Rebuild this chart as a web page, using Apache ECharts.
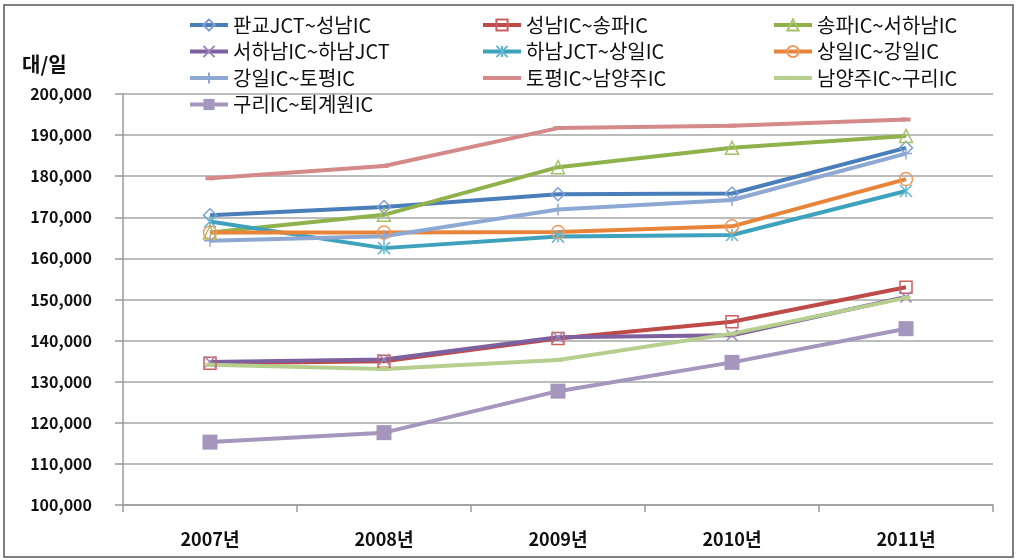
<!DOCTYPE html>
<html>
<head>
<meta charset="utf-8">
<script src="https://cdn.jsdelivr.net/npm/echarts@6/dist/echarts.min.js"></script>
<style>
  html, body { margin: 0; padding: 0; background: #fff; }
  #chart { width: 1017px; height: 560px; }
</style>
</head>
<body>
<div id="chart"></div>
<script>
// 연도
var years = ['2007년', '2008년', '2009년', '2010년', '2011년'];

// 구간별 교통량 (대/일)
var pangyoSeongnam = [170500, 172500, 175600, 175800, 186900];
var seongnamSongpa = [134500, 135000, 140500, 144600, 153000];
var songpaSeohanam = [166300, 170600, 182200, 186900, 189800];
var seohanamHanam = [134800, 135400, 140800, 141300, 150600];
var hanamSangil = [169000, 162500, 165300, 165700, 176400];
var sangilGangil = [166300, 166300, 166400, 167800, 179300];
var gangilTopyeong = [164300, 165400, 171900, 174200, 185500];
var topyeongNamyangju = [179500, 182500, 191700, 192300, 193800];
var namyangjuGuri = [134100, 133100, 135300, 141700, 150400];
var guriToegyewon = [115300, 117600, 127700, 134700, 142900];

var names = [
  '판교JCT~성남IC', '성남IC~송파IC', '송파IC~서하남IC',
  '서하남IC~하남JCT', '하남JCT~상일IC', '상일IC~강일IC',
  '강일IC~토평IC', '토평IC~남양주IC', '남양주IC~구리IC',
  '구리IC~퇴계원IC'
];

var chart = echarts.init(document.getElementById('chart'));

function line(name, data, color, markColor, symbol, size, filled) {
  return {
    name: name,
    type: 'line',
    data: data,
    symbol: symbol,
    symbolSize: size,
    lineStyle: { color: color, width: 4 },
    itemStyle: filled ? { color: markColor, borderWidth: 0 } :
      { color: 'rgba(255,255,255,0)', borderColor: markColor, borderWidth: 1.5 },
    emphasis: { disabled: true }
  };
}

var font = '"Noto Sans CJK KR", "Noto Sans", sans-serif';

// 범례 항목: 마커 없는 계열은 선만 보이게
function item(i) {
  if (i === 7 || i === 8) {
    return { name: names[i], itemStyle: { color: 'rgba(0,0,0,0)' } };
  }
  return { name: names[i] };
}

function legendCol(left, items) {
  return {
    orient: 'vertical',
    left: left,
    top: 15,
    padding: 0,
    itemWidth: 38,
    itemHeight: 14,
    itemGap: 6.5,
    lineStyle: { width: 4 },
    data: items.map(item),
    textStyle: { fontFamily: font, fontSize: 20, color: '#111', lineHeight: 20 }
  };
}

var option = {
  animation: false,
  title: {
    text: '대/일',
    left: 17,
    top: 49,
    textStyle: { fontFamily: font, fontSize: 20, fontWeight: 'bold', color: '#111' }
  },
  legend: [
    legendCol(188, [0, 3, 6, 9]),
    legendCol(481, [1, 4, 7]),
    legendCol(772, [2, 5, 8])
  ],
  grid: { left: 123, right: 24, top: 94, bottom: 55 },
  xAxis: {
    type: 'category',
    data: years,
    boundaryGap: true,
    axisLine: { lineStyle: { color: '#9a9a9a', width: 1.5 } },
    axisTick: { show: true, length: 7, lineStyle: { color: '#9a9a9a', width: 1.5 } },
    axisLabel: { fontFamily: font, fontSize: 18, fontWeight: 'bold', color: '#111', margin: 25 }
  },
  yAxis: {
    type: 'value',
    min: 100000,
    max: 200000,
    interval: 10000,
    axisLine: { show: true, lineStyle: { color: '#9a9a9a', width: 1.5 } },
    axisTick: { show: true, length: 8, lineStyle: { color: '#9a9a9a', width: 1.5 } },
    splitLine: { lineStyle: { color: '#a6a6a6', width: 1.5 } },
    axisLabel: {
      fontFamily: font, fontSize: 16, fontWeight: 'bold', color: '#111', margin: 31,
      formatter: function (v) { return v.toLocaleString('en-US'); }
    }
  },
  graphic: [{
    type: 'rect',
    shape: { x: 4, y: 5, width: 1009, height: 552 },
    style: { fill: 'none', stroke: '#555', lineWidth: 1.5 },
    silent: true
  }],
  series: [
    line(names[0], pangyoSeongnam, '#4a7ebb', '#7f9fd0', 'diamond', 13, false),
    line(names[1], seongnamSongpa, '#be4b48', '#c9605d', 'rect', 12, false),
    line(names[2], songpaSeohanam, '#8fb24c', '#a3c26a', 'triangle', 13, false),
    line(names[3], seohanamHanam, '#7d60a0', '#9a85b9', 'path://M0,0L10,10M10,0L0,10', 11, false),
    line(names[4], hanamSangil, '#3fa2bd', '#63b7cf', 'path://M5,0L5,10M0,0L10,10M10,0L0,10', 12, false),
    line(names[5], sangilGangil, '#e8843a', '#eb9b5e', 'circle', 13, false),
    line(names[6], gangilTopyeong, '#8ea8d4', '#8ea8d4', 'path://M5,0L5,10M0,5L10,5', 12, false),
    line(names[7], topyeongNamyangju, '#d48a89', '#d48a89', 'rect', [9, 4], true),
    line(names[8], namyangjuGuri, '#b6cf8f', '#b6cf8f', 'rect', [9, 4], true),
    line(names[9], guriToegyewon, '#a596bd', '#a596bd', 'rect', 15, true)
  ]
};

chart.setOption(option);
</script>
</body>
</html>
